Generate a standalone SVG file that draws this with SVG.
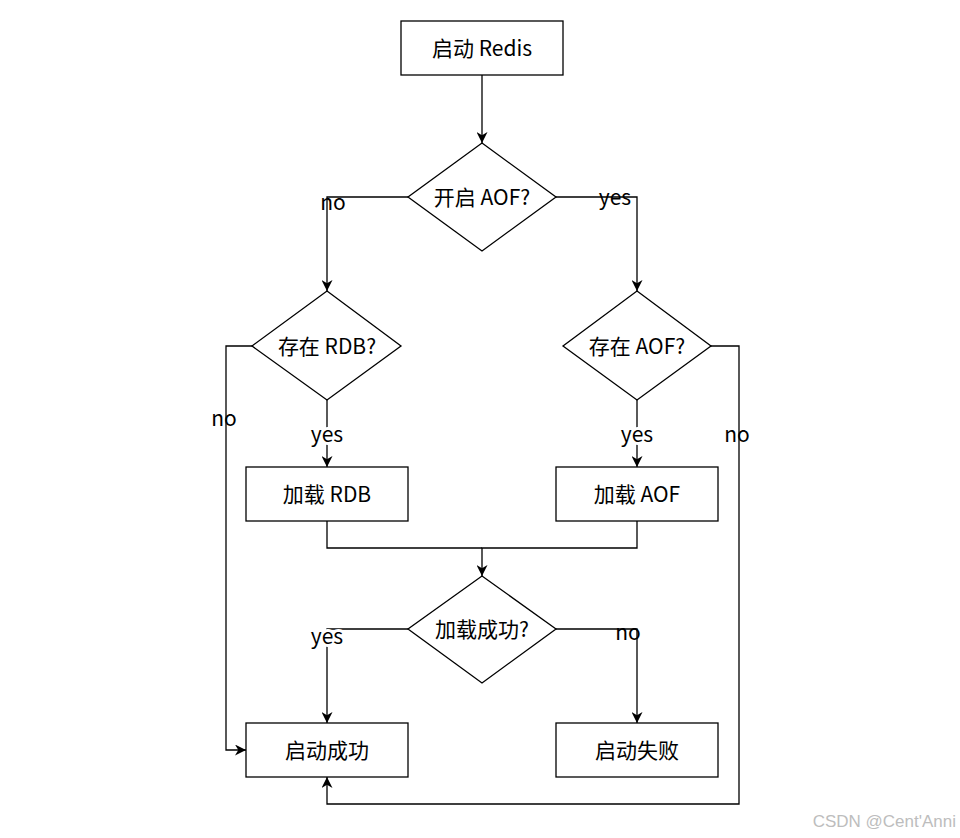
<svg xmlns="http://www.w3.org/2000/svg" width="960" height="838" viewBox="0 0 960 838">
<defs>
<marker id="arr" viewBox="0 0 11 11" refX="11" refY="5.5" markerWidth="11" markerHeight="11" markerUnits="userSpaceOnUse" orient="auto">
<path d="M0,0 L11,5.5 L0,11 L3.3,5.5 Z" fill="#000"/>
</marker>
<style>
.shape{fill:#fff;stroke:#000;stroke-width:1.3}
.edge{fill:none;stroke:#000;stroke-width:1.3;marker-end:url(#arr)}
.line{fill:none;stroke:#000;stroke-width:1.3}
text{font-family:"Noto Sans CJK SC","Noto Sans",sans-serif;font-size:21px;fill:#000;text-anchor:middle;dominant-baseline:central}
.lbl{font-size:21px}
.wm{font-family:"Liberation Sans",Arial,sans-serif;font-size:17px;fill:#bdbdbd;text-anchor:end}
</style>
</defs>
<rect width="960" height="838" fill="#fff"/>
<g id="connectors">
<path class="edge" d="M482,75 V143"/>
<path class="edge" d="M408,197 H327 V291"/>
<path class="edge" d="M556,197 H637 V291"/>
<path class="edge" d="M327,400 V467"/>
<path class="edge" d="M637,400 V467"/>
<path class="line" d="M327,521 V548 H482"/>
<path class="edge" d="M637,521 V548 H482 V576"/>
<path class="edge" d="M408,629 H327 V723"/>
<path class="edge" d="M556,629 H637 V723"/>
<path class="edge" d="M252,346 H226 V750 H246"/>
<path class="edge" d="M711,346 H739 V804 H327 V777"/>
</g>
<g id="labels">
<text x="333" y="201" class="lbl">no</text>
<text x="615" y="196" class="lbl">yes</text>
<text x="327" y="433" class="lbl" style="paint-order:stroke" stroke="#fff" stroke-width="6">yes</text>
<text x="637" y="433" class="lbl" style="paint-order:stroke" stroke="#fff" stroke-width="6">yes</text>
<text x="224" y="417" class="lbl">no</text>
<text x="737" y="433" class="lbl">no</text>
<text x="327" y="635" class="lbl" style="paint-order:stroke" stroke="#fff" stroke-width="6">yes</text>
<text x="628" y="631" class="lbl">no</text>
</g>
<g id="start"><rect class="shape" x="401" y="21" width="162" height="54"/><text x="482" y="47">启动 Redis</text></g>
<g id="aofEnabled"><path class="shape" d="M482,143 L556,197 L482,251 L408,197 Z"/><text x="482" y="196">开启 AOF?</text></g>
<g id="rdbExists"><path class="shape" d="M327,291 L401,346 L327,400 L252,346 Z"/><text x="327" y="345">存在 RDB?</text></g>
<g id="aofExists"><path class="shape" d="M637,291 L711,346 L637,400 L563,346 Z"/><text x="637" y="345">存在 AOF?</text></g>
<g id="loadRdb"><rect class="shape" x="246" y="467" width="162" height="54"/><text x="327" y="493">加载 RDB</text></g>
<g id="loadAof"><rect class="shape" x="556" y="467" width="162" height="54"/><text x="637" y="493">加载 AOF</text></g>
<g id="loadOk"><path class="shape" d="M482,576 L556,629 L482,683 L408,629 Z"/><text x="482" y="628">加载成功?</text></g>
<g id="success"><rect class="shape" x="246" y="723" width="162" height="54"/><text x="327" y="749">启动成功</text></g>
<g id="fail"><rect class="shape" x="556" y="723" width="162" height="54"/><text x="637" y="749">启动失败</text></g>
<text class="wm" x="956" y="827" style="dominant-baseline:auto">CSDN @Cent'Anni</text>
</svg>
